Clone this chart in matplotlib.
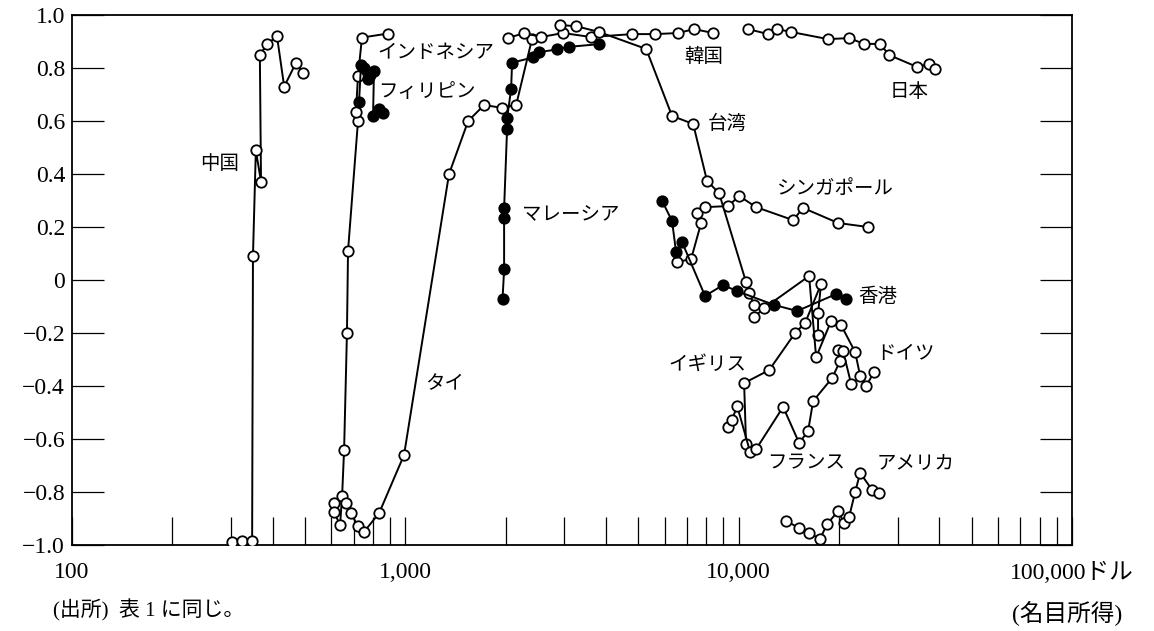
import matplotlib
matplotlib.use('Agg')
import matplotlib.pyplot as plt
from matplotlib.ticker import FixedLocator, NullFormatter

plt.rcParams['font.family'] = ['Liberation Serif', 'Noto Sans CJK JP']

# ---- data (nominal income in dollars, index value) ----
china_x = [302, 324, 347, 349, 356, 369, 366, 385, 412, 433, 470, 493]
china_y = [-0.99, -0.985, -0.985, 0.09, 0.49, 0.37, 0.85, 0.89, 0.92, 0.73, 0.82, 0.78]

indonesia_x = [611, 611, 637, 646, 655, 668, 673, 721, 711, 721, 741, 887]
indonesia_y = [-0.84, -0.875, -0.925, -0.815, -0.64, -0.20, 0.11, 0.60, 0.635, 0.77, 0.915, 0.93]

philippines_x = [726, 736, 752, 773, 784, 805, 800, 834, 857]
philippines_y = [0.67, 0.81, 0.80, 0.76, 0.775, 0.79, 0.62, 0.645, 0.63]

thai_x = [664, 687, 721, 752, 834, 991, 1352, 1543, 1722, 1950, 2149, 2399]
thai_y = [-0.84, -0.88, -0.93, -0.95, -0.88, -0.66, 0.40, 0.60, 0.66, 0.65, 0.66, 0.91]

malaysia_x = [1957, 1978, 1978, 1978, 2019, 2019, 2076, 2090, 2415, 2518, 2852, 3098, 3811]
malaysia_y = [-0.07, 0.04, 0.235, 0.27, 0.57, 0.61, 0.72, 0.82, 0.84, 0.86, 0.87, 0.88, 0.89]

korea_x = [2033, 2270, 2553, 2972, 3606, 4789, 5612, 6579, 7349, 8380]
korea_y = [0.913, 0.932, 0.917, 0.932, 0.917, 0.928, 0.928, 0.932, 0.947, 0.932]

taiwan_x = [2911, 3252, 3811, 5277, 6310, 7300, 8035, 8730, 10520, 10740, 11120]
taiwan_y = [0.962, 0.958, 0.936, 0.872, 0.619, 0.589, 0.374, 0.328, -0.008, -0.049, -0.094]

hongkong_x = [5893, 6310, 6486, 6761, 7925, 8977, 9892, 12770, 14970, 19600, 21000]
hongkong_y = [0.298, 0.223, 0.106, 0.143, -0.060, -0.019, -0.042, -0.094, -0.117, -0.053, -0.072]

singapore_x = [6534, 7197, 7713, 7499, 7925, 9296, 10030, 11280, 14560, 15600, 19880, 24450]
singapore_y = [0.068, 0.079, 0.215, 0.253, 0.275, 0.279, 0.317, 0.275, 0.226, 0.272, 0.215, 0.20]

japan_x = [10670, 12250, 13030, 14360, 18540, 21440, 23770, 26560, 28260, 34300, 37250, 38840]
japan_y = [0.947, 0.928, 0.947, 0.936, 0.909, 0.913, 0.891, 0.891, 0.849, 0.804, 0.815, 0.796]

uk_x = [10520, 10380, 12340, 14760, 15820, 17660, 17300, 17300]
uk_y = [-0.619, -0.389, -0.340, -0.200, -0.162, -0.015, -0.125, -0.208]

france_x = [9296, 9550, 9890, 10820, 11280, 13590, 15180, 16150, 16720, 19060, 20140, 19880, 20560, 21740]
france_y = [-0.555, -0.528, -0.475, -0.649, -0.638, -0.479, -0.615, -0.570, -0.457, -0.370, -0.306, -0.264, -0.268, -0.392]

germany_x = [11120, 11920, 16260, 17070, 18930, 20280, 22350, 23140, 24120, 25490]
germany_y = [-0.140, -0.106, 0.015, -0.291, -0.155, -0.170, -0.272, -0.362, -0.400, -0.347]

usa_x = [13870, 15180, 16260, 17540, 18410, 19880, 20700, 21440, 22350, 23140, 25130, 26380]
usa_y = [-0.909, -0.936, -0.955, -0.977, -0.921, -0.872, -0.917, -0.894, -0.800, -0.728, -0.792, -0.804]

# (x, y, filled)
series = [
    (china_x, china_y, False),
    (indonesia_x, indonesia_y, False),
    (thai_x, thai_y, False),
    (korea_x, korea_y, False),
    (taiwan_x, taiwan_y, False),
    (singapore_x, singapore_y, False),
    (japan_x, japan_y, False),
    (uk_x, uk_y, False),
    (france_x, france_y, False),
    (germany_x, germany_y, False),
    (usa_x, usa_y, False),
    (philippines_x, philippines_y, True),
    (malaysia_x, malaysia_y, True),
    (hongkong_x, hongkong_y, True),
]

# country labels: text, x, y
labels = [
    ('中国', 278, 0.44),
    ('インドネシア', 1236, 0.857),
    ('フィリピン', 1162, 0.713),
    ('韓国', 7870, 0.842),
    ('台湾', 9230, 0.589),
    ('日本', 32460, 0.713),
    ('シンガポール', 19470, 0.347),
    ('マレーシア', 3142, 0.245),
    ('香港', 26200, -0.064),
    ('イギリス', 8040, -0.317),
    ('ドイツ', 31560, -0.279),
    ('タイ', 1316, -0.392),
    ('フランス', 15930, -0.691),
    ('アメリカ', 33820, -0.694),
]

y_ticks = [1.0, 0.8, 0.6, 0.4, 0.2, 0.0, -0.2, -0.4, -0.6, -0.8, -1.0]
y_ticklabels = ['1.0', '0.8', '0.6', '0.4', '0.2', '0',
                '\u22120.2', '\u22120.4', '\u22120.6', '\u22120.8', '\u22121.0']
x_ticks = [100, 1000, 10000, 100000]
x_ticklabels = ['100', '1,000', '10,000', '100,000ドル']

fig = plt.figure(figsize=(11.54, 6.31), dpi=100)
ax = fig.add_axes([0.0624, 0.1363, 0.8666, 0.8399])

for xs, ys, filled in series:
    ax.plot(xs, ys, color='black', lw=1.4, marker='o', ms=7.5, mew=1.3,
            mfc='black' if filled else 'white', mec='black', zorder=3)

for txt, x, y in labels:
    ax.text(x, y, txt, fontsize=14, ha='center', va='center',
            family='Noto Sans CJK JP', zorder=4)

ax.set_xscale('log')
ax.set_xlim(100, 100000)
ax.set_ylim(-1.0, 1.0)

ax.set_xticks(x_ticks)
ax.set_xticklabels(x_ticklabels, fontsize=17)
minor = [m * d for d in (100, 1000, 10000) for m in range(2, 10)]
ax.xaxis.set_minor_locator(FixedLocator(minor))
ax.xaxis.set_minor_formatter(NullFormatter())
ax.tick_params(axis='x', which='both', direction='in', length=20, width=0.9,
               top=False, pad=12)

ax.set_yticks(y_ticks)
ax.set_yticklabels(y_ticklabels, fontsize=17)
ax.tick_params(axis='y', which='major', direction='in', length=23, width=0.9,
               left=True, right=True, pad=5)

for sp in ax.spines.values():
    sp.set_linewidth(1.3)

fig.text(0.9246, 0.027, '(名目所得)', fontsize=17, ha='center', va='center')
fig.text(0.046, 0.033, '(出所)  表 1 に同じ。', fontsize=15, ha='left', va='center')

fig.savefig('out.png', dpi=100)
